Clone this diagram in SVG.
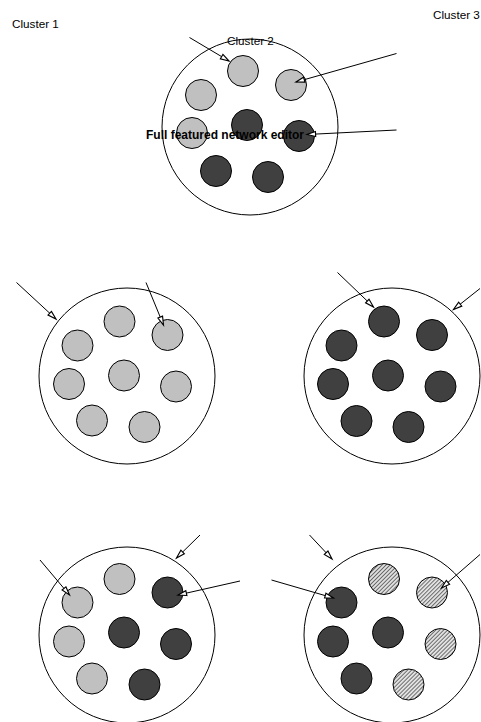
<svg xmlns="http://www.w3.org/2000/svg" width="481" height="722" viewBox="0 0 481 722">
<style>
.cl{fill:none;stroke:#000;stroke-width:1}
.lt{fill:#c0c0c0;stroke:#000;stroke-width:1}
.dk{fill:#404040;stroke:#000;stroke-width:1}
.ht{fill:url(#hatch);stroke:#000;stroke-width:1}
.lbl{font-family:"Liberation Sans",Arial,sans-serif;font-size:11.7px;fill:#000}
.bold{font-family:"Liberation Sans",Arial,sans-serif;font-size:12px;font-weight:bold;fill:#000}
.ed{fill:none;stroke:#000;stroke-width:1;marker-end:url(#ah)}
</style>
<defs>
<marker id="ah" markerUnits="userSpaceOnUse" markerWidth="10" markerHeight="8" refX="6" refY="1.75" orient="auto" viewBox="0 0 7 3.5" overflow="visible">
<path d="M0,0 L6,1.75 L0,3.5 Z" fill="#fff" stroke="#000" stroke-width="0.8"/>
</marker>
<pattern id="hatch" patternUnits="userSpaceOnUse" width="2.8" height="2.8" patternTransform="rotate(45)">
<rect width="2.8" height="2.8" fill="#e0e0e0"/>
<line x1="0" y1="0" x2="0" y2="2.8" stroke="#222" stroke-width="1.2"/>
</pattern>
</defs>
<g id="cluster1-label"><text class="lbl" x="12" y="28">Cluster 1</text></g>
<g id="cluster3-label"><text class="lbl" x="433" y="19">Cluster 3</text></g>

<g id="top-cluster">
<circle class="cl" cx="250" cy="127" r="88"/>
<circle class="lt" cx="243" cy="71" r="15.5"/>
<circle class="lt" cx="291" cy="85" r="15.5"/>
<circle class="lt" cx="201" cy="95" r="15.5"/>
<circle class="lt" cx="192" cy="133" r="15.5"/>
<circle class="dk" cx="247" cy="125" r="15.5"/>
<circle class="dk" cx="299" cy="136" r="15.5"/>
<circle class="dk" cx="216" cy="171" r="15.5"/>
<circle class="dk" cx="268" cy="177" r="15.5"/>
<text class="lbl" x="227" y="45">Cluster 2</text>
<text class="bold" x="146" y="139">Full featured network editor</text>
</g>

<g id="mid-left-cluster">
<circle class="cl" cx="127" cy="376" r="88"/>
<circle class="lt" cx="119.5" cy="321.5" r="15.5"/>
<circle class="lt" cx="167.5" cy="335" r="15.5"/>
<circle class="lt" cx="77.5" cy="345.5" r="15.5"/>
<circle class="lt" cx="69" cy="384" r="15.5"/>
<circle class="lt" cx="124" cy="375.5" r="15.5"/>
<circle class="lt" cx="176" cy="386.5" r="15.5"/>
<circle class="lt" cx="92" cy="420.5" r="15.5"/>
<circle class="lt" cx="144.5" cy="427" r="15.5"/>
</g>

<g id="mid-right-cluster">
<circle class="cl" cx="392" cy="376" r="88"/>
<circle class="dk" cx="384" cy="321.5" r="15.5"/>
<circle class="dk" cx="432" cy="335" r="15.5"/>
<circle class="dk" cx="341.5" cy="345.5" r="15.5"/>
<circle class="dk" cx="333" cy="384" r="15.5"/>
<circle class="dk" cx="388" cy="375.5" r="15.5"/>
<circle class="dk" cx="440.5" cy="386.5" r="15.5"/>
<circle class="dk" cx="356.5" cy="421" r="15.5"/>
<circle class="dk" cx="408.5" cy="427" r="15.5"/>
</g>

<g id="bottom-left-cluster">
<circle class="cl" cx="127" cy="635" r="88"/>
<circle class="lt" cx="119.5" cy="579" r="15.5"/>
<circle class="dk" cx="167.5" cy="592.5" r="15.5"/>
<circle class="lt" cx="77.5" cy="602.5" r="15.5"/>
<circle class="lt" cx="69" cy="641.5" r="15.5"/>
<circle class="dk" cx="124" cy="632.5" r="15.5"/>
<circle class="dk" cx="176" cy="644" r="15.5"/>
<circle class="lt" cx="92" cy="678.5" r="15.5"/>
<circle class="dk" cx="144.5" cy="684.5" r="15.5"/>
</g>

<g id="bottom-right-cluster">
<circle class="cl" cx="392" cy="635" r="88"/>
<circle class="ht" cx="384" cy="579" r="15.5"/>
<circle class="ht" cx="432" cy="592.5" r="15.5"/>
<circle class="dk" cx="341.5" cy="602.5" r="15.5"/>
<circle class="dk" cx="333" cy="641.5" r="15.5"/>
<circle class="dk" cx="388" cy="632.5" r="15.5"/>
<circle class="ht" cx="440.5" cy="644" r="15.5"/>
<circle class="dk" cx="356.5" cy="678.5" r="15.5"/>
<circle class="ht" cx="408.5" cy="684.5" r="15.5"/>
</g>

<g id="connectors">
<line class="ed" x1="189.5" y1="37.5" x2="229" y2="61"/>
<line class="ed" x1="396.5" y1="53.5" x2="296" y2="82"/>
<line class="ed" x1="396.5" y1="130" x2="307" y2="134.5"/>
<line class="ed" x1="16.5" y1="282.5" x2="56" y2="319"/>
<line class="ed" x1="146" y1="282.5" x2="163.5" y2="325"/>
<line class="ed" x1="337.5" y1="272.5" x2="373.5" y2="307"/>
<line class="ed" x1="480" y1="288.5" x2="453.5" y2="309.5"/>
<line class="ed" x1="200" y1="535" x2="176.5" y2="558"/>
<line class="ed" x1="40" y1="560" x2="69.5" y2="595"/>
<line class="ed" x1="240" y1="581" x2="178" y2="595"/>
<line class="ed" x1="309.5" y1="535" x2="332" y2="559"/>
<line class="ed" x1="271.5" y1="580" x2="333.5" y2="598"/>
<line class="ed" x1="480" y1="554.5" x2="441.5" y2="588"/>
</g>
</svg>
